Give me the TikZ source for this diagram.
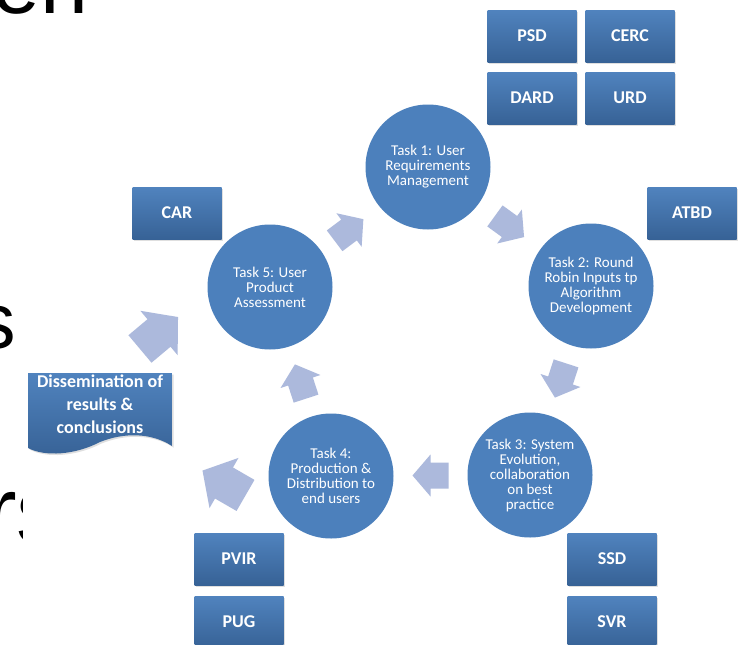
\documentclass[tikz,border=0pt]{standalone}
\usepackage{fontspec}
\setmainfont{Carlito}
\newfontfamily\slidefont{Liberation Sans}
\usetikzlibrary{shadows,calc}
\definecolor{circblue}{RGB}{76,128,188}
\definecolor{boxtop}{RGB}{80,131,190}
\definecolor{boxbot}{RGB}{55,98,150}
\definecolor{arrowfill}{RGB}{172,185,220}
\begin{document}
\begin{tikzpicture}[x=1pt,y=-1pt,
  circ/.style={circle, minimum size=125pt, inner sep=0pt, fill=circblue, text=white,
    align=center, font=\fontsize{15}{15}\selectfont},
  docbox/.style={rectangle, minimum width=89pt, minimum height=52pt, inner sep=0pt,
    top color=boxtop, bottom color=boxbot, text=white,
    font=\fontsize{18}{18}\selectfont\bfseries,
    drop shadow={opacity=0.25, shadow xshift=1.5pt, shadow yshift=-1.5pt}},
  flowarrow/.pic={\fill[arrowfill] (-18,-13) -- (0,-13) -- (0,-21) -- (18,0)
      -- (0,21) -- (0,13) -- (-18,13) -- cycle;},
  frag/.style={anchor=base west, inner sep=0pt, text=black}
]
\useasboundingbox (0,0) rectangle (739,645);
\clip (0,0) rectangle (739,645);
\fill[white] (0,0) rectangle (739,645);
% fragments of slide text behind the diagram
\node[frag, font=\slidefont\fontsize{86}{86}\selectfont] (frag1) at (-8,13) {en};
\node[frag, font=\slidefont\fontsize{79}{79}\selectfont] (frag2) at (-24,348) {s};
\node[frag, font=\slidefont\fontsize{95}{95}\selectfont] (frag3) at (-15,543) {rs};
\fill[white] (23,20) rectangle (739,645);
% task circles
\node[circ] (t1) at (428,167) {Task 1: User\\Requirements\\Management};
\node[circ] (t2) at (591,286) {Task 2: Round\\Robin Inputs tp\\Algorithm\\Development};
\node[circ] (t3) at (530,475) {Task 3: System\\Evolution,\\collaboration\\on best\\practice};
\node[circ] (t4) at (331,476) {Task 4:\\Production \&\\Distribution to\\end users};
\node[circ] (t5) at (270,287) {Task 5: User\\Product\\Assessment};
% cycle arrows
\coordinate (a51) at ($(t5)!0.5!(t1)+(0,3)$);
\coordinate (a12) at ($(t1)!0.5!(t2)$);
\coordinate (a23) at ($(t2)!0.5!(t3)$);
\coordinate (a34) at ($(t3)!0.5!(t4)$);
\coordinate (a45) at ($(t4)!0.5!(t5)$);
\coordinate (ad5) at (159,333);
\coordinate (a4d) at (224,483);
\pic[rotate=37]   at (a51) {flowarrow};
\pic[rotate=-36]  at (a12) {flowarrow};
\pic[rotate=-108] at (a23) {flowarrow};
\pic[rotate=180]  at (a34) {flowarrow};
\pic[rotate=108]  at (a45) {flowarrow};
\pic[rotate=40, scale=1.38]  at (ad5) {flowarrow};
\pic[rotate=150, scale=1.38] at (a4d) {flowarrow};
% dissemination document shape
\path[top color=boxtop, bottom color=boxbot,
  drop shadow={opacity=0.25, shadow xshift=1.5pt, shadow yshift=-1.5pt}]
  (28,373) -- (172,373) -- (172,446)
  .. controls (152,433) and (125,432) .. (100,442)
  .. controls (75,455) and (45,457) .. (28,448) -- cycle;
\node[text=white, align=center, font=\fontsize{18}{23}\selectfont\bfseries] (diss) at (100,404)
  {Dissemination of\\results \&\\conclusions};
% document boxes
\node[docbox] (psd)  at (532,36)  {PSD};
\node[docbox] (cerc) at (630,36)  {CERC};
\node[docbox] (dard) at (532,98)  {DARD};
\node[docbox] (urd)  at (630,98)  {URD};
\node[docbox] (atbd) at (692,213) {ATBD};
\node[docbox] (car)  at (177,213) {CAR};
\node[docbox] (ssd)  at (612,559) {SSD};
\node[docbox] (svr)  at (612,622) {SVR};
\node[docbox] (pvir) at (239,559) {PVIR};
\node[docbox] (pug)  at (239,622) {PUG};
\end{tikzpicture}
\end{document}
